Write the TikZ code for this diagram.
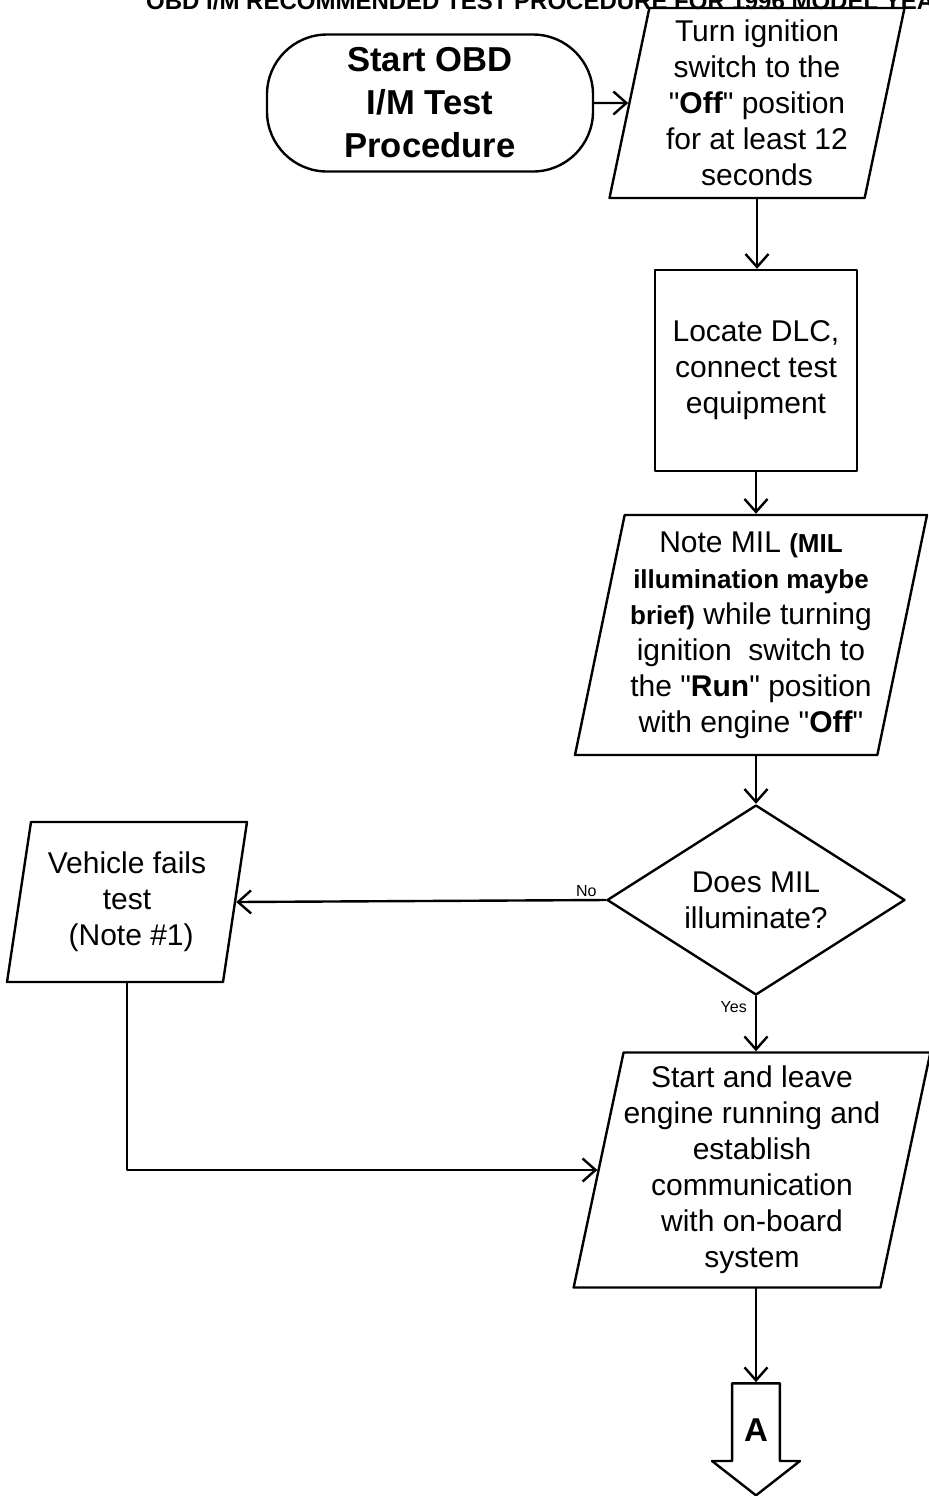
\documentclass[tikz,border=0pt]{standalone}
\usepackage{fontspec}
\setmainfont{Liberation Sans}
\usetikzlibrary{arrows.meta}
\usetikzlibrary{shapes.geometric}
\usetikzlibrary{shapes.arrows}
\newcommand{\qt}{\textquotedbl}

\begin{document}
\begin{tikzpicture}[x=0.5pt,y=-0.5pt,line cap=round,line join=round,line width=1.2pt,
  >={Straight Barb[length=6.5pt,width=11.5pt,line width=1.2pt]},
  txt/.style={font=\fontsize{15}{18}\selectfont,align=center,inner sep=0pt},
  io/.style={txt,draw,trapezium,trapezium left angle=76.5,trapezium right angle=103.5,trapezium stretches body},
  proc/.style={txt,draw,rectangle},
  decide/.style={txt,draw,diamond,aspect=1.57},
  term/.style={draw,rectangle,rounded corners=30pt,align=center,inner sep=0pt,font=\fontsize{17.3}{21.5}\selectfont\bfseries},
  lbl/.style={font=\fontsize{8}{9}\selectfont,inner sep=1pt}]
\useasboundingbox (0,0) rectangle (929,1496);
\clip (0,0) rectangle (929,1496);
% title line, cut at the page top
\node[anchor=base west,inner sep=0pt,font=\fontsize{12}{14}\selectfont\bfseries] (title) at (145,9) {OBD I/M RECOMMENDED TEST PROCEDURE FOR 1996 MODEL YEAR};
% boxes
\node[term,minimum width=163pt,minimum height=68.5pt] (start) at (430,103) {Start OBD\\I/M Test\\Procedure};
\node[io,minimum width=147.5pt,minimum height=95pt] (off) at (757,103) {Turn ignition\\switch to the\\\qt\textbf{Off}\qt{} position\\for at least 12\\seconds};
\node[proc,minimum width=101pt,minimum height=100.5pt] (dlc) at (756,370.5) {Locate DLC,\\connect test\\equipment};
\node[io,minimum width=176pt,minimum height=120pt] (mil) at (751,635) {Note MIL {\fontsize{13}{18}\selectfont\bfseries (MIL}\\{\fontsize{13}{18}\selectfont\bfseries illumination maybe}\\{\fontsize{13}{18}\selectfont\bfseries brief)} while turning\\ignition~ switch to\\the \qt\textbf{Run}\qt{} position\\with engine \qt\textbf{Off}\qt};
\node[decide,minimum width=149pt,minimum height=95pt] (ask) at (756,900) {Does MIL\\illuminate?};
\node[io,minimum width=120pt,minimum height=80pt] (fail) at (127,902) {Vehicle fails\\test\\~(Note \#1)};
\node[io,minimum width=177pt,minimum height=117.5pt] (run) at (752,1170) {Start and leave\\engine running and\\establish\\communication\\with on-board\\system};
\node[draw,single arrow,shape border rotate=270,minimum height=56pt,minimum width=44pt,
  single arrow head extend=5.5pt,single arrow tip angle=104,inner sep=0pt,
  font=\fontsize{16.5}{18}\selectfont\bfseries] (conA) at (756,1430) {A};
% connectors
\draw[->] (start.east) -- (off.west);
\draw[->] (off.south) -- (off.south |- dlc.north);
\draw[->] (dlc.south) -- (dlc.south |- mil.north);
\draw[->] (dlc.south |- mil.south) -- (dlc.south |- ask.north);
\draw[->] (ask.west) -- (fail.east);
\draw[->] (ask.south) -- (ask.south |- run.north);
\draw[->] (fail.south) |- (run.west);
\draw[->] (ask.south |- run.south) -- (conA.tail);
\node[lbl,anchor=south east] (no) at ([xshift=-3pt]ask.west) {No};
\node[lbl,anchor=north east] (yes) at ([xshift=-3pt,yshift=-1pt]ask.south) {Yes};
\end{tikzpicture}
\end{document}
